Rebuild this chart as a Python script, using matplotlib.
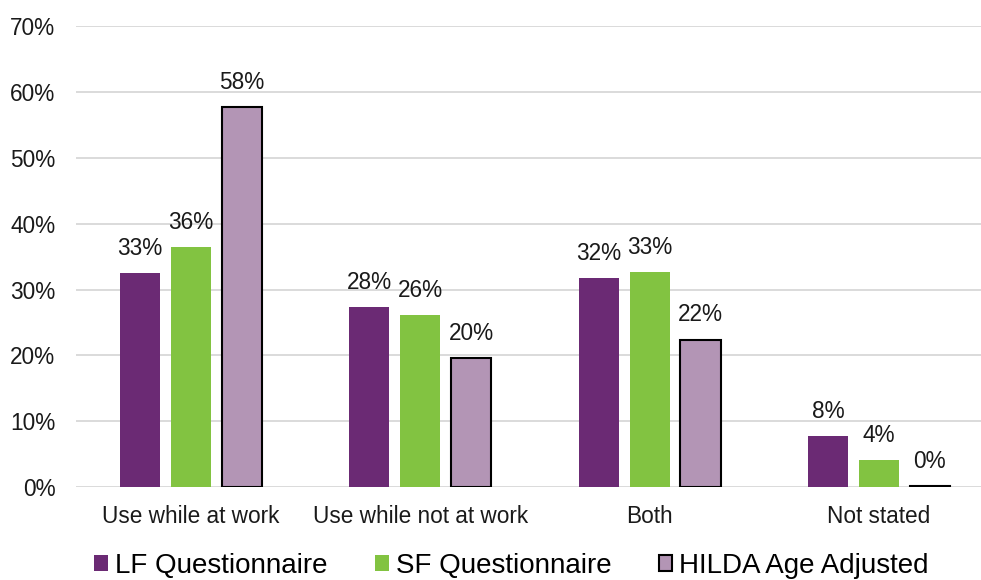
import matplotlib.pyplot as plt
import numpy as np

plt.rcParams['font.family'] = ['Liberation Sans', 'DejaVu Sans']

categories = ["Use while at work", "Use while not at work", "Both", "Not stated"]
series = ["LF Questionnaire", "SF Questionnaire", "HILDA Age Adjusted"]
lf_vals = [32.5, 27.4, 31.7, 7.7]
sf_vals = [36.5, 26.1, 32.7, 4.1]
hilda_vals = [57.7, 19.6, 22.4, 0.2]
lf_labels = ["33%", "28%", "32%", "8%"]
sf_labels = ["36%", "26%", "33%", "4%"]
hilda_labels = ["58%", "20%", "22%", "0%"]
yticks = [0, 10, 20, 30, 40, 50, 60, 70]

colors = ["#6b2a74", "#82c341", "#b395b5"]
edges = ["none", "none", "black"]

fig = plt.figure(figsize=(9.81, 5.8), dpi=100)
# plot area runs slightly past the right edge, as in the original
ax = fig.add_axes([0.0778, 0.16, 0.935, 0.795])

x = np.arange(len(categories))
width = 0.175
offset = 0.222
all_vals = [lf_vals, sf_vals, hilda_vals]
all_labels = [lf_labels, sf_labels, hilda_labels]

for i, (vals, labs) in enumerate(zip(all_vals, all_labels)):
    pos = x + (i - 1) * offset
    bars = ax.bar(pos, vals, width, color=colors[i], edgecolor=edges[i],
                  linewidth=1.5 if i == 2 else 0, label=series[i], zorder=3)
    for b, lab in zip(bars, labs):
        ax.text(b.get_x() + b.get_width() / 2, b.get_height() + 2.0, lab,
                ha="center", va="bottom", fontsize=16.3, color="#1a1a1a")

ax.set_xlim(-0.5, 3.5)
ax.set_ylim(0, 70)
ax.set_yticks(yticks)
ax.set_yticklabels([f"{t}%" for t in yticks])
ax.set_xticks(x)
ax.set_xticklabels(categories)
ax.tick_params(axis="both", length=0, labelsize=16.3, colors="#1a1a1a")
ax.tick_params(axis="x", pad=13)
ax.tick_params(axis="y", pad=15)
ax.yaxis.grid(True, color="#d4d4d4", linewidth=1.2, zorder=0)
for s in ax.spines.values():
    s.set_visible(False)

leg = ax.legend(loc="lower center", bbox_to_anchor=(0.4746, -0.241), ncol=3,
                frameon=False, fontsize=20, handlelength=0.5, handleheight=0.5,
                handletextpad=0.25, columnspacing=1.7, borderaxespad=0.3)

fig.savefig("out.png", dpi=100)
